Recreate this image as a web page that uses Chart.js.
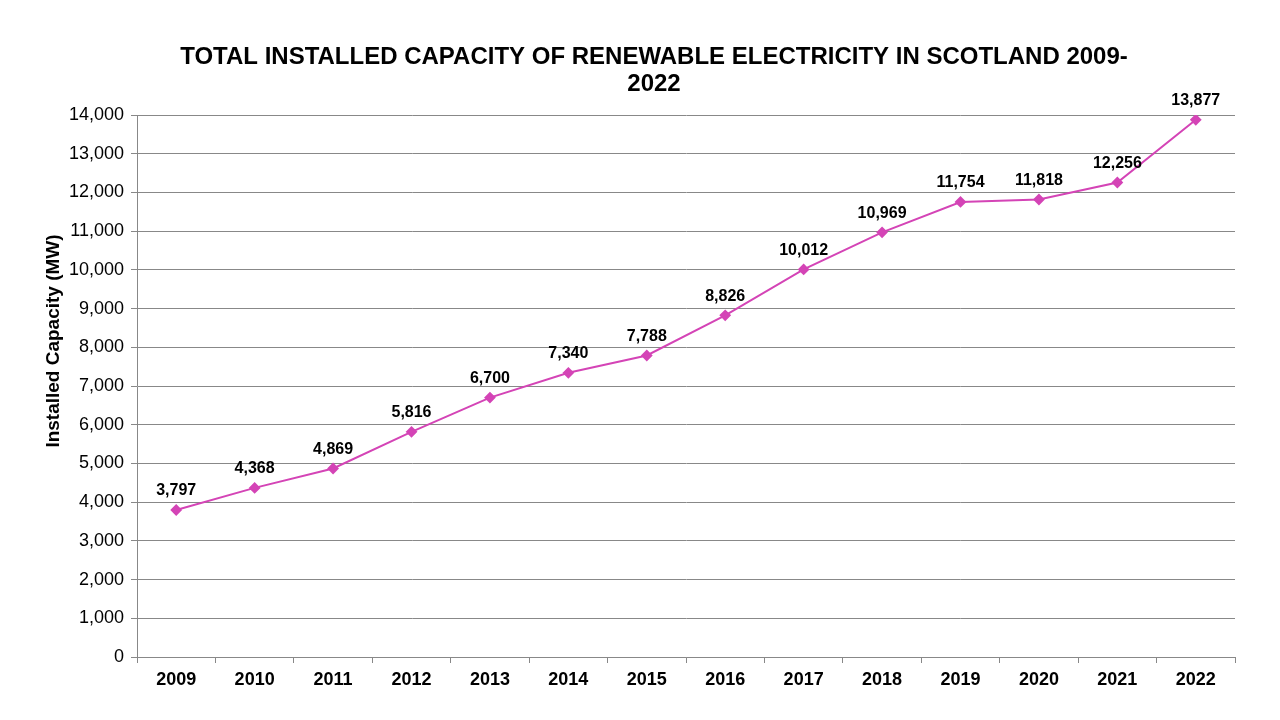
<!DOCTYPE html>
<html>
<head>
<meta charset="utf-8">
<script src="https://cdn.jsdelivr.net/npm/chart.js@4.4.0/dist/chart.umd.min.js"></script>
<style>
  html, body { margin: 0; padding: 0; background: #fff; }
  #wrap { width: 1280px; height: 720px; }
</style>
</head>
<body>
<div id="wrap"><canvas id="myChart" width="1280" height="720"></canvas></div>
<script>
const years = ["2009", "2010", "2011", "2012", "2013", "2014", "2015", "2016", "2017", "2018", "2019", "2020", "2021", "2022"];
const capacity = [3797, 4368, 4869, 5816, 6700, 7340, 7788, 8826, 10012, 10969, 11754, 11818, 12256, 13877];
const titleLines = ["TOTAL INSTALLED CAPACITY OF RENEWABLE ELECTRICITY IN SCOTLAND 2009-", "2022"];
const yTitle = "Installed Capacity (MW)";

const FONT = "'Liberation Sans', Arial, sans-serif";
const lineColor = "#d444b6";
const gridColor = "#888888";

// value labels above each point
const pointLabels = {
    id: "pointLabels",
    afterDatasetsDraw(chart) {
        const ctx = chart.ctx;
        const meta = chart.getDatasetMeta(0);
        ctx.save();
        ctx.font = "bold 16px " + FONT;
        ctx.fillStyle = "#000";
        ctx.textAlign = "center";
        ctx.textBaseline = "middle";
        meta.data.forEach((pt, i) => {
            ctx.fillText(capacity[i].toLocaleString("en-GB"), pt.x, pt.y - 19);
        });
        ctx.restore();
    }
};

// chart title and rotated y axis title, placed like the original
const titles = {
    id: "titles",
    afterDraw(chart) {
        const ctx = chart.ctx;
        ctx.save();
        ctx.fillStyle = "#000";
        ctx.textAlign = "center";
        ctx.textBaseline = "middle";
        ctx.font = "bold 24px " + FONT;
        titleLines.forEach((line, i) => ctx.fillText(line, 654, 57 + i * 27));

        ctx.translate(54, 341);
        ctx.rotate(-Math.PI / 2);
        ctx.font = "bold 19px " + FONT;
        ctx.fillText(yTitle, 0, 0);
        ctx.restore();
    }
};

const ctx = document.getElementById("myChart").getContext("2d");
const chart = new Chart(ctx, {
    type: "line",
    data: {
        labels: years,
        datasets: [
            {
                label: "Installed Capacity",
                data: capacity,
                fill: false,
                borderColor: lineColor,
                backgroundColor: lineColor,
                borderWidth: 2,
                pointStyle: "rectRot",
                pointRadius: 4.5,
                pointHoverRadius: 4.5,
                tension: 0
            }
        ]
    },
    options: {
        responsive: false,
        animation: false,
        layout: {
            padding: { left: 0, right: 45, top: 115, bottom: 0 }
        },
        scales: {
            x: {
                offset: true,
                grid: {
                    display: true,
                    drawOnChartArea: false,
                    drawTicks: true,
                    tickLength: 6,
                    color: gridColor,
                    offset: true
                },
                border: { color: gridColor, width: 1 },
                ticks: {
                    color: "#000",
                    padding: 6,
                    maxRotation: 0,
                    font: { family: FONT, size: 18, weight: "bold" }
                },
                afterFit(scale) { scale.height = 63; }
            },
            y: {
                min: 0,
                max: 14000,
                ticks: {
                    stepSize: 1000,
                    color: "#000",
                    padding: 7,
                    font: { family: FONT, size: 18 },
                    callback: (v) => v.toLocaleString("en-GB")
                },
                grid: {
                    color: gridColor,
                    tickLength: 6,
                    lineWidth: 1
                },
                border: { color: gridColor, width: 1 },
                afterFit(scale) { scale.width = 137; }
            }
        },
        plugins: {
            legend: { display: false },
            tooltip: { enabled: false },
            title: { display: false }
        }
    },
    plugins: [pointLabels, titles]
});
</script>
</body>
</html>
